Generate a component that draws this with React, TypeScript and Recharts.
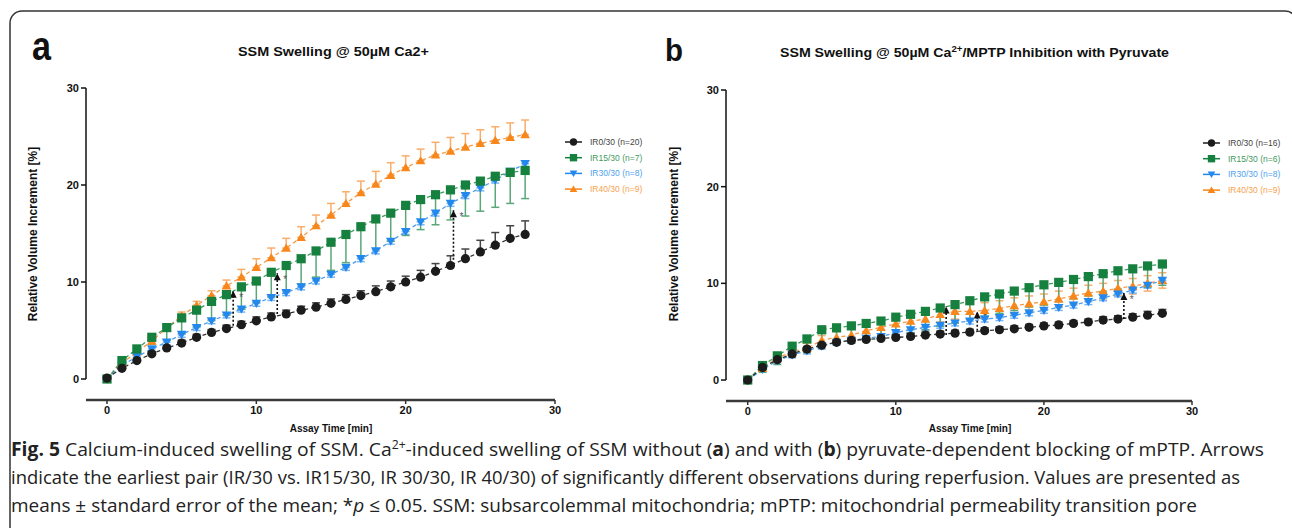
import React from "react";
import {
  LineChart, Line, XAxis, YAxis, ErrorBar, ReferenceLine, ReferenceDot, Legend,
} from "recharts";

// assay time in minutes
const minutes = [0, 1, 2, 3, 4, 5, 6, 7, 8, 9, 10, 11, 12, 13, 14, 15, 16, 17, 18, 19, 20, 21, 22, 23, 24, 25, 26, 27, 28];
const axisTicks = [0, 10, 20, 30];

// panel a: SSM swelling @ 50µM Ca2+
const aIR0 = [0.1, 1.1, 1.9, 2.6, 3.2, 3.7, 4.3, 4.8, 5.2, 5.6, 6.0, 6.4, 6.7, 7.1, 7.4, 7.8, 8.2, 8.6, 9.0, 9.5, 10.0, 10.5, 11.1, 11.7, 12.4, 13.1, 13.8, 14.5, 14.9];
const aIR0Sem = [0.1, 0.15, 0.2, 0.2, 0.25, 0.3, 0.3, 0.3, 0.35, 0.35, 0.4, 0.4, 0.4, 0.4, 0.45, 0.45, 0.5, 0.5, 0.6, 0.6, 0.6, 0.7, 0.8, 1.0, 1.0, 1.2, 1.3, 1.3, 1.4];
const aIR15 = [0, 1.9, 3.1, 4.3, 5.3, 6.3, 7.1, 8.0, 8.7, 9.5, 10.1, 11.0, 11.7, 12.4, 13.2, 14.1, 14.9, 15.7, 16.5, 17.1, 17.9, 18.5, 19.0, 19.5, 20.0, 20.4, 20.9, 21.3, 21.5];
const aIR15Sem = [0.1, 0.3, 0.5, 0.7, 1.3, 1.6, 1.7, 1.9, 2.1, 2.3, 2.2, 2.5, 2.6, 2.6, 2.7, 2.9, 2.9, 3.0, 3.1, 2.9, 3.1, 3.1, 3.1, 3.1, 3.2, 3.1, 3.2, 3.2, 2.9];
const aIR30 = [0, 1.4, 2.3, 3.1, 3.8, 4.6, 5.3, 6.0, 6.6, 7.2, 7.8, 8.4, 8.9, 9.5, 10.1, 10.8, 11.5, 12.4, 13.2, 14.2, 15.2, 16.2, 17.1, 18.1, 18.9, 19.7, 20.5, 21.4, 22.2];
const aIR30Sem = [0.1, 0.2, 0.3, 0.3, 0.3, 0.3, 0.3, 0.3, 0.3, 0.3, 0.3, 0.3, 0.3, 0.3, 0.3, 0.3, 0.3, 0.3, 0.3, 0.3, 0.3, 0.3, 0.3, 0.3, 0.3, 0.3, 0.3, 0.3, 0.3];
const aIR40 = [0, 1.6, 2.8, 3.9, 5.3, 6.5, 7.6, 8.6, 9.6, 10.5, 11.5, 12.5, 13.5, 14.6, 15.8, 16.9, 18.1, 19.2, 20.1, 21.0, 21.8, 22.5, 23.1, 23.5, 23.9, 24.3, 24.6, 24.9, 25.2];
const aIR40Sem = [0, 0.2, 0.2, 0.3, 0.3, 0.4, 0.4, 0.5, 0.6, 0.8, 0.9, 1.0, 1.0, 1.1, 1.1, 1.2, 1.2, 1.2, 1.3, 1.3, 1.2, 1.2, 1.3, 1.4, 1.4, 1.4, 1.4, 1.5, 1.5];
const aArrows = [
  { t: 8.45, from: 5.5, to: 9.1 },
  { t: 11.4, from: 6.7, to: 10.9 },
  { t: 23.2, from: 12.3, to: 17.4 },
];
const aCounts = ["IR0/30 (n=20)", "IR15/30 (n=7)", "IR30/30 (n=8)", "IR40/30 (n=9)"];

// panel b: MPTP inhibition with pyruvate
const bIR0 = [0, 1.3, 2.1, 2.7, 3.2, 3.6, 3.9, 4.1, 4.2, 4.3, 4.4, 4.5, 4.65, 4.75, 4.85, 4.95, 5.1, 5.2, 5.3, 5.45, 5.6, 5.7, 5.85, 6.0, 6.2, 6.3, 6.5, 6.7, 6.9];
const bIR0Sem = [0.1, 0.2, 0.2, 0.25, 0.25, 0.25, 0.25, 0.25, 0.25, 0.25, 0.3, 0.3, 0.3, 0.3, 0.3, 0.3, 0.3, 0.3, 0.3, 0.3, 0.3, 0.3, 0.3, 0.3, 0.35, 0.35, 0.35, 0.4, 0.4];
const bIR15 = [0, 1.5, 2.5, 3.5, 4.25, 5.2, 5.4, 5.6, 5.85, 6.1, 6.5, 6.8, 7.1, 7.45, 7.8, 8.2, 8.6, 8.9, 9.2, 9.55, 9.85, 10.1, 10.4, 10.7, 11.0, 11.3, 11.5, 11.8, 12.0];
const bIR15Sem = [0.1, 0.7, 0.9, 1.1, 1.4, 1.7, 1.7, 1.8, 1.8, 1.8, 1.9, 1.9, 1.9, 1.9, 1.9, 1.9, 2.0, 2.0, 2.0, 2.0, 2.1, 2.0, 2.0, 2.0, 1.9, 1.9, 2.0, 2.2, 2.2];
const bIR30 = [0, 1.1, 2.0, 2.6, 3.0, 3.5, 3.9, 4.1, 4.3, 4.5, 4.9, 5.2, 5.45, 5.65, 5.9, 6.1, 6.3, 6.45, 6.7, 6.95, 7.2, 7.5, 7.75, 8.1, 8.5, 8.9, 9.3, 9.8, 10.3];
const bIR30Sem = [0.1, 0.2, 0.2, 0.3, 0.3, 0.3, 0.3, 0.3, 0.3, 0.3, 0.3, 0.3, 0.3, 0.3, 0.3, 0.3, 0.3, 0.3, 0.3, 0.3, 0.3, 0.3, 0.3, 0.3, 0.3, 0.3, 0.3, 0.3, 0.3];
const bIR40 = [0, 1.2, 2.3, 2.9, 3.3, 4.1, 4.4, 4.65, 5.1, 5.45, 5.8, 6.1, 6.3, 6.8, 7.1, 7.1, 7.2, 7.4, 7.7, 7.9, 8.1, 8.4, 8.7, 9.0, 9.2, 9.5, 9.7, 10.0, 10.3];
const bIR40Sem = [0, 0.3, 0.3, 0.4, 0.5, 0.5, 0.6, 0.6, 0.7, 0.7, 0.7, 0.7, 0.8, 0.8, 0.8, 0.8, 0.8, 0.8, 0.8, 0.8, 0.8, 0.8, 0.8, 0.8, 0.8, 0.8, 0.8, 0.8, 0.8];
const bArrows = [
  { t: 13.4, from: 4.65, to: 7.6 },
  { t: 15.5, from: 5.1, to: 7.1 },
  { t: 25.4, from: 6.3, to: 9.0 },
];
const bCounts = ["IR0/30 (n=16)", "IR15/30 (n=6)", "IR30/30 (n=8)", "IR40/30 (n=9)"];

const font = '"Liberation Sans", Arial, sans-serif';

// drawn back to front; legend order is reversed
const series = [
  { key: "ir40", color: "#f7861b", line: "#f79a45", err: "#f9ad6a", text: "#f5a24e", shape: "up" },
  { key: "ir30", color: "#2388ee", line: "#4a9cf0", err: "#7ab6f3", text: "#4f9ff0", shape: "down" },
  { key: "ir15", color: "#16803f", line: "#3d9a5e", err: "#5aa878", text: "#3f9a60", shape: "square" },
  { key: "ir0", color: "#1c1c1c", line: "#333333", err: "#444444", text: "#444444", shape: "circle" },
];

function Marker({ shape, cx, cy, fill, s = 1 }: any) {
  if (cx == null || cy == null) return null;
  if (shape === "circle") return <circle cx={cx} cy={cy} r={4.6 * s} fill={fill} />;
  if (shape === "square") return <rect x={cx - 4.6 * s} y={cy - 4.6 * s} width={9.2 * s} height={9.2 * s} fill={fill} />;
  if (shape === "down")
    return <path d={`M${cx - 4.8 * s},${cy - 3.6 * s}L${cx + 4.8 * s},${cy - 3.6 * s}L${cx},${cy + 4.6 * s}Z`} fill={fill} />;
  return <path d={`M${cx - 4.8 * s},${cy + 3.6 * s}L${cx + 4.8 * s},${cy + 3.6 * s}L${cx},${cy - 4.6 * s}Z`} fill={fill} />;
}

function ArrowHead(props: any) {
  const { cx, cy } = props;
  return (
    <g>
      <path d={`M${cx - 3.5},${cy + 7}L${cx + 3.5},${cy + 7}L${cx},${cy}Z`} fill="#111" />
      <text x={cx + 6} y={cy + 10} fontSize={10} fill="#555" fontFamily={font}>*</text>
    </g>
  );
}

function buildRows(ir0: number[], e0: number[], ir15: number[], e15: number[], ir30: number[], e30: number[], ir40: number[], e40: number[], bothWays40: boolean) {
  return minutes.map((t, i) => ({
    t,
    ir0: ir0[i], ir0e: [0, e0[i]],
    ir15: ir15[i], ir15e: [e15[i], 0],
    ir30: ir30[i], ir30e: [e30[i], 0],
    ir40: ir40[i], ir40e: bothWays40 ? [e40[i], e40[i]] : [0, e40[i]],
  }));
}

const aRows = buildRows(aIR0, aIR0Sem, aIR15, aIR15Sem, aIR30, aIR30Sem, aIR40, aIR40Sem, false);
const bRows = buildRows(bIR0, bIR0Sem, bIR15, bIR15Sem, bIR30, bIR30Sem, bIR40, bIR40Sem, true);

function LegendBox({ names }: { names: string[] }) {
  const order = [...series].reverse();
  return (
    <svg width={100} height={66}>
      {order.map((s, i) => {
        const y = 8 + i * 15.7;
        return (
          <g key={s.key}>
            <line x1={0} x2={17} y1={y} y2={y} stroke={s.color} strokeWidth={1.5} />
            <Marker shape={s.shape} cx={8.5} cy={y} fill={s.color} s={0.8} />
            <text x={25} y={y + 3} fontSize={8.5} fill={s.text} fontFamily={font}>{names[i]}</text>
          </g>
        );
      })}
    </svg>
  );
}

const tickStyle = { fontSize: 11, fontWeight: 700, fill: "#111", fontFamily: font };

// axes are offset from the data area (GraphPad style)
function Panel({ rows, xMin, yMin, margin, yAxisWidth, xAxisHeight, yLen, arrows, names, legendLeft, legendTop }: any) {
  return (
    <LineChart width={646} height={440} data={rows} margin={margin}>
      <XAxis
        type="number" dataKey="t" domain={[xMin, 30]} allowDataOverflow ticks={axisTicks} interval={0}
        height={xAxisHeight} axisLine={{ stroke: "#3a3a3a", strokeWidth: 2.5 }}
        tickLine={{ stroke: "#333", strokeWidth: 1.5 }} tickSize={4} tickMargin={2} tick={tickStyle}
      />
      <YAxis
        type="number" domain={[yMin, 30]} allowDataOverflow ticks={axisTicks} interval={0}
        width={yAxisWidth} axisLine={{ stroke: "#111", strokeWidth: 1.5, strokeDasharray: `${yLen} 200` }}
        tickLine={{ stroke: "#111", strokeWidth: 1.5 }} tickSize={5} tickMargin={2} tick={tickStyle}
      />
      {series.map((s) => (
        <Line
          key={s.key} dataKey={s.key} type="linear" stroke={s.line} strokeWidth={1.3} strokeDasharray="4 3"
          isAnimationActive={false} activeDot={false}
          dot={(p: any) => <Marker key={`${s.key}-${p.index}`} shape={s.shape} cx={p.cx} cy={p.cy} fill={s.color} />}
        >
          <ErrorBar dataKey={`${s.key}e`} width={4} stroke={s.err} strokeWidth={1.5} direction="y" isAnimationActive={false} />
        </Line>
      ))}
      {arrows.map((a: any, i: number) => (
        <ReferenceLine
          key={`al${i}`} segment={[{ x: a.t, y: a.from }, { x: a.t, y: a.to }]}
          stroke="#111" strokeWidth={1.6} strokeDasharray="2 2" ifOverflow="visible"
        />
      ))}
      {arrows.map((a: any, i: number) => (
        <ReferenceDot key={`ah${i}`} x={a.t} y={a.to} r={4} ifOverflow="visible" shape={(p: any) => <ArrowHead {...p} />} />
      ))}
      <Legend
        layout="vertical" align="center" verticalAlign="middle"
        wrapperStyle={{ left: legendLeft, top: legendTop, width: 100, height: 66 }}
        content={() => <LegendBox names={names} />}
      />
    </LineChart>
  );
}

export default function App() {
  return (
    <div style={{ position: "fixed", left: 0, top: 0, width: 1292, height: 528, background: "#fff", overflow: "hidden", fontFamily: font }}>
      <div style={{ position: "absolute", left: 0, top: 0 }}>
        <Panel
          rows={aRows} xMin={-1.4066} yMin={-2.165} margin={{ top: 88, right: 91, bottom: 0, left: 0 }}
          yAxisWidth={86} xAxisHeight={40} yLen={291}
          arrows={aArrows} names={aCounts} legendLeft={565} legendTop={134}
        />
      </div>
      <div style={{ position: "absolute", left: 646, top: 0 }}>
        <Panel
          rows={bRows} xMin={-1.465} yMin={-2.17} margin={{ top: 90, right: 100, bottom: 0, left: 0 }}
          yAxisWidth={80} xAxisHeight={39} yLen={290}
          arrows={bArrows} names={bCounts} legendLeft={557} legendTop={135}
        />
      </div>
      <svg width={1292} height={528} style={{ position: "absolute", left: 0, top: 0, pointerEvents: "none" }}>
        <rect x={10} y={11} width={1287} height={600} rx={12} fill="none" stroke="#333" strokeWidth={1.5} />
        <text x={32} y={60} fontSize={40} fontWeight={700} textLength={19} lengthAdjust="spacingAndGlyphs" fontFamily={font} fill="#111">a</text>
        <text x={665} y={61} fontSize={32} fontWeight={700} textLength={18} lengthAdjust="spacingAndGlyphs" fontFamily={font} fill="#111">b</text>
        <text x={238} y={56} fontSize={13} fontWeight={700} textLength={191} lengthAdjust="spacingAndGlyphs" fontFamily={font} fill="#111">
          SSM Swelling @ 50µM Ca2+
        </text>
        <text x={780} y={57} fontSize={12.5} fontWeight={700} textLength={389} lengthAdjust="spacingAndGlyphs" fontFamily={font} fill="#111">
          <tspan>SSM Swelling @ 50µM Ca</tspan>
          <tspan dy={-5} fontSize={8.5}>2+</tspan>
          <tspan dy={5}>/MPTP Inhibition with Pyruvate</tspan>
        </text>
        <text transform="translate(37,234) rotate(-90)" textAnchor="middle" fontSize={12} fontWeight={700} fontFamily={font} fill="#111">
          Relative Volume Increment [%]
        </text>
        <text transform="translate(678,234) rotate(-90)" textAnchor="middle" fontSize={12} fontWeight={700} fontFamily={font} fill="#111">
          Relative Volume Increment [%]
        </text>
        <text x={331} y={432} textAnchor="middle" fontSize={10} fontWeight={700} fontFamily={font} fill="#111">Assay Time [min]</text>
        <text x={970} y={432} textAnchor="middle" fontSize={10} fontWeight={700} fontFamily={font} fill="#111">Assay Time [min]</text>
        <g fontFamily='"Open Sans", sans-serif' fontSize={19} fill="#222">
          <text x={11} y={456} textLength={1253} lengthAdjust="spacingAndGlyphs">
            <tspan fontWeight={700}>Fig. 5</tspan>
            <tspan>{" Calcium-induced swelling of SSM. Ca"}</tspan>
            <tspan dy={-7} fontSize={12}>2+</tspan>
            <tspan dy={7}>{"-induced swelling of SSM without ("}</tspan>
            <tspan fontWeight={700}>a</tspan>
            <tspan>{") and with ("}</tspan>
            <tspan fontWeight={700}>b</tspan>
            <tspan>{") pyruvate-dependent blocking of mPTP. Arrows"}</tspan>
          </text>
          <text x={11} y={484} textLength={1229} lengthAdjust="spacingAndGlyphs">
            indicate the earliest pair (IR/30 vs. IR15/30, IR 30/30, IR 40/30) of significantly different observations during reperfusion. Values are presented as
          </text>
          <text x={11} y={512} textLength={1186} lengthAdjust="spacingAndGlyphs">
            <tspan>{"means ± standard error of the mean; *"}</tspan>
            <tspan fontStyle="italic">p</tspan>
            <tspan>{" ≤ 0.05. SSM: subsarcolemmal mitochondria; mPTP: mitochondrial permeability transition pore"}</tspan>
          </text>
        </g>
      </svg>
    </div>
  );
}
